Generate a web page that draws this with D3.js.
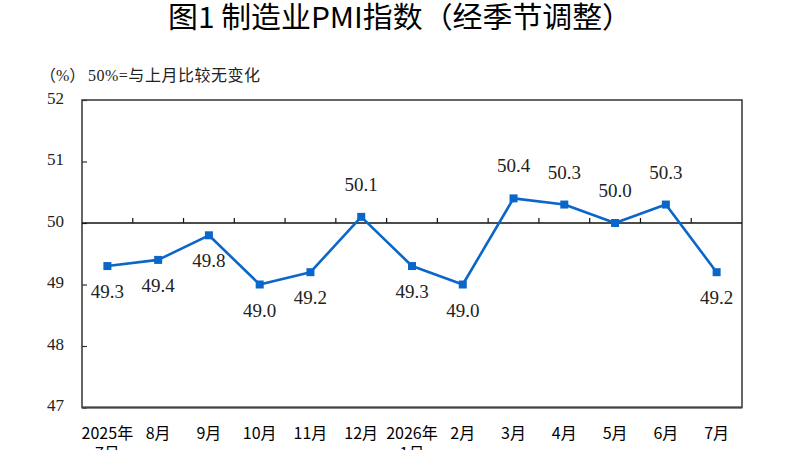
<!DOCTYPE html>
<html>
<head>
<meta charset="utf-8">
<script src="https://cdn.jsdelivr.net/npm/d3@7"></script>
<style>
  html, body { margin: 0; padding: 0; background: #fff; }
  svg { display: block; }
</style>
</head>
<body>
<svg id="chart"></svg>
<script>
// month labels (two-line ones split on \n)
const months = ["2025年\n7月", "8月", "9月", "10月", "11月", "12月", "2026年\n1月",
                "2月", "3月", "4月", "5月", "6月", "7月"];
// manufacturing PMI, seasonally adjusted
const pmi = [49.3, 49.4, 49.8, 49.0, 49.2, 50.1, 49.3, 49.0, 50.4, 50.3, 50.0, 50.3, 49.2];
const yTicks = [47, 48, 49, 50, 51, 52];

const width = 800, height = 450;
const plotL = 82, plotR = 742, plotT = 100, plotB = 407.5;
const blue = "#0b66c9";
const serif = "'Liberation Serif', 'Times New Roman', 'Noto Sans CJK SC', serif";
const cjk = "'Noto Sans CJK SC', 'Noto Sans', sans-serif";

const svg = d3.select("#chart")
    .attr("width", width)
    .attr("height", height)
    .attr("viewBox", `0 0 ${width} ${height}`);

svg.append("rect").attr("width", width).attr("height", height).attr("fill", "#fff");

const x = d3.scaleBand().domain(months).range([plotL, plotR]).padding(0);
const y = d3.scaleLinear().domain([47, 52]).range([plotB, plotT]);

// title
svg.append("text")
    .attr("x", 168).attr("y", 28)
    .attr("textLength", 464)
    .attr("lengthAdjust", "spacingAndGlyphs")
    .style("font-family", cjk)
    .style("font-size", "29px")
    .style("font-weight", "normal")
    .attr("fill", "#000")
    .text("图1 制造业PMI指数（经季节调整）");

// unit note
svg.append("text")
    .attr("x", 40).attr("y", 81)
    .style("font-family", serif)
    .style("font-size", "16px")
    .attr("fill", "#222")
    .text("（%）");
svg.append("text")
    .attr("x", 88).attr("y", 81)
    .attr("textLength", 172)
    .style("font-family", serif)
    .style("font-size", "16px")
    .attr("fill", "#222")
    .text("50%=与上月比较无变化");

// y axis, ticks pointing inward
const yAxis = svg.append("g")
    .attr("transform", `translate(${plotL},0)`)
    .call(d3.axisLeft(y).tickValues(yTicks).tickFormat(d3.format("d"))
        .tickSize(-5).tickSizeOuter(0).tickPadding(18));
yAxis.select(".domain").remove();
yAxis.selectAll(".tick line").attr("stroke", "#333").attr("stroke-width", 1.2);
yAxis.selectAll(".tick text")
    .attr("dy", "0.2em")
    .style("font-family", serif)
    .style("font-size", "17px")
    .attr("fill", "#222");

// frame
svg.append("rect")
    .attr("x", plotL).attr("y", plotT)
    .attr("width", plotR - plotL).attr("height", plotB - plotT)
    .attr("fill", "none").attr("stroke", "#333").attr("stroke-width", 1.5);
svg.append("line")
    .attr("x1", plotL).attr("x2", plotR)
    .attr("y1", plotB).attr("y2", plotB)
    .attr("stroke", "#444").attr("stroke-width", 2.2);

// 50 line with small upward ticks between months
svg.append("line")
    .attr("x1", plotL).attr("x2", plotR)
    .attr("y1", y(50)).attr("y2", y(50))
    .attr("stroke", "#111").attr("stroke-width", 1.4);
svg.append("g").selectAll("line")
    .data(months.slice(1))
    .join("line")
    .attr("x1", d => x(d)).attr("x2", d => x(d))
    .attr("y1", y(50)).attr("y2", y(50) - 5)
    .attr("stroke", "#111").attr("stroke-width", 1.2);

// x labels
const xl = svg.append("g").selectAll("text")
    .data(months)
    .join("text")
    .attr("text-anchor", "middle")
    .style("font-family", cjk)
    .style("font-size", "16px")
    .style("font-weight", "normal")
    .attr("fill", "#000");
xl.selectAll("tspan")
    .data(d => d.split("\n").map(s => ({ s, c: d })))
    .join("tspan")
    .attr("x", d => x(d.c) + x.bandwidth() / 2)
    .attr("y", (d, i) => 439 + i * 20)
    .text(d => d.s);

// line + markers
const cx = (d, i) => x(months[i]) + x.bandwidth() / 2;
svg.append("path")
    .datum(pmi)
    .attr("fill", "none")
    .attr("stroke", blue)
    .attr("stroke-width", 2.6)
    .attr("stroke-linejoin", "round")
    .attr("d", d3.line().x(cx).y(d => y(d)));

svg.append("g").selectAll("rect")
    .data(pmi)
    .join("rect")
    .attr("x", (d, i) => cx(d, i) - 4)
    .attr("y", d => y(d) - 4)
    .attr("width", 8).attr("height", 8)
    .attr("fill", blue);

// value labels: above when >= 50, below otherwise
svg.append("g").selectAll("text")
    .data(pmi)
    .join("text")
    .attr("x", cx)
    .attr("y", d => d >= 50 ? y(d) - 26 : y(d) + 32)
    .attr("text-anchor", "middle")
    .style("font-family", serif)
    .style("font-size", "19px")
    .attr("fill", "#222")
    .text(d => d.toFixed(1));
</script>
</body>
</html>
